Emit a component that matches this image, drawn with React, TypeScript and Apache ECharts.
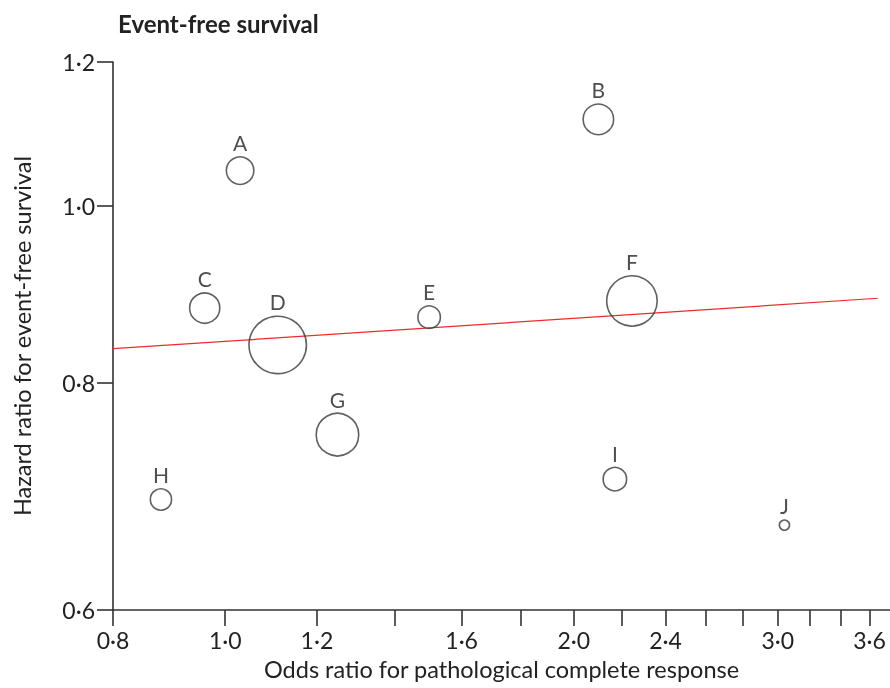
import React, { useEffect, useRef } from "react";
import * as echarts from "echarts";

// ---- data ----
const studies = ["A", "B", "C", "D", "E", "F", "G", "H", "I", "J"];
const oddsRatio = [1.03, 2.1, 0.96, 1.11, 1.5, 2.245, 1.25, 0.88, 2.17, 3.04];
const hazardRatio = [1.046, 1.116, 0.879, 0.839, 0.869, 0.887, 0.749, 0.69, 0.708, 0.668];
const weights = [210, 256, 251, 870, 144, 676, 484, 129, 156, 34];
const fitX = [0.8, 3.66];
const fitY = [0.835, 0.89];
const xTickValues = [0.8, 1.0, 1.2, 1.4, 1.6, 1.8, 2.0, 2.2, 2.4, 2.6, 2.8, 3.0, 3.2, 3.4, 3.6];
const xLabelValues = [0.8, 1.0, 1.2, 1.6, 2.0, 2.4, 3.0, 3.6];
const yTickValues = [0.6, 0.8, 1.0, 1.2];
const xRange = [0.8, 3.75];
const yRange = [0.6, 1.2];

const ln = Math.log;
const fmt = (v: number) => Math.exp(v).toFixed(1).replace(".", "\u00b7");

const FONT = "Lato, 'Noto Sans', sans-serif";
const AXIS_COLOR = "#333";
const TEXT_COLOR = "#222";

export default function App() {
  const ref = useRef<HTMLDivElement>(null);

  useEffect(() => {
    if (!ref.current) return;
    const chart = echarts.init(ref.current, undefined, { renderer: "svg" });

    const scatterData = studies.map((s, i) => [ln(oddsRatio[i]), ln(hazardRatio[i]), weights[i], s]);
    const lineData = fitX.map((x, i) => [ln(x), ln(fitY[i])]);

    chart.setOption({
      animation: false,
      title: {
        text: "Event-free survival",
        left: 113,
        top: 6,
        textStyle: { fontFamily: FONT, fontWeight: "bold", fontSize: 24, color: TEXT_COLOR },
      },
      grid: { left: 113, right: 0, top: 62, bottom: 78, containLabel: false },
      xAxis: {
        type: "value",
        min: ln(xRange[0]),
        max: ln(xRange[1]),
        name: "Odds ratio for pathological complete response",
        nameLocation: "middle",
        nameGap: 47,
        nameTextStyle: { fontFamily: FONT, fontSize: 23.5, color: TEXT_COLOR },
        axisLine: { show: true, onZero: false, lineStyle: { color: AXIS_COLOR, width: 1.6 } },
        axisTick: {
          show: true,
          length: 16,
          customValues: xTickValues.map(ln),
          lineStyle: { color: AXIS_COLOR, width: 1.6 },
        },
        axisLabel: {
          customValues: xLabelValues.map(ln),
          formatter: fmt,
          margin: 18,
          fontFamily: FONT,
          fontSize: 23,
          color: TEXT_COLOR,
        },
        splitLine: { show: false },
      },
      yAxis: {
        type: "value",
        min: ln(yRange[0]),
        max: ln(yRange[1]),
        name: "Hazard ratio for event-free survival",
        nameLocation: "middle",
        nameGap: 79,
        nameTextStyle: { fontFamily: FONT, fontSize: 23.5, color: TEXT_COLOR },
        axisLine: { show: true, onZero: false, lineStyle: { color: AXIS_COLOR, width: 1.6 } },
        axisTick: {
          show: true,
          length: 16,
          customValues: yTickValues.map(ln),
          lineStyle: { color: AXIS_COLOR, width: 1.6 },
        },
        axisLabel: {
          customValues: yTickValues.map(ln),
          formatter: fmt,
          margin: 18,
          fontFamily: FONT,
          fontSize: 23,
          color: TEXT_COLOR,
        },
        splitLine: { show: false },
      },
      series: [
        {
          type: "line",
          data: lineData,
          showSymbol: false,
          silent: true,
          z: 1,
          lineStyle: { color: "#ee2a2a", width: 1.2 },
        },
        {
          type: "scatter",
          data: scatterData,
          silent: true,
          z: 2,
          symbol: "circle",
          symbolSize: (v: any) => 2 * Math.sqrt(v[2]) - 1.5,
          itemStyle: { color: "rgba(0,0,0,0)", borderColor: "#3a3a3a", borderWidth: 1.6 },
          label: {
            show: true,
            position: "top",
            distance: 3,
            formatter: (p: any) => p.data[3],
            fontFamily: FONT,
            fontSize: 21,
            color: TEXT_COLOR,
          },
        },
      ],
    });

    return () => chart.dispose();
  }, []);

  return (
    <div
      ref={ref}
      style={{ position: "fixed", left: 0, top: 0, width: 890, height: 688 }}
    />
  );
}
